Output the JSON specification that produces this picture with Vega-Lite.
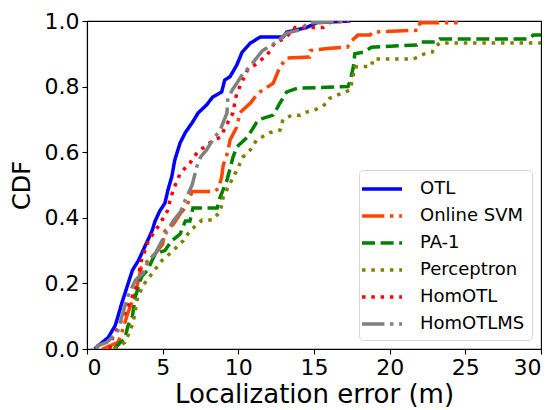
{
  "$schema": "https://vega.github.io/schema/vega-lite/v6.json",
  "width": 454,
  "height": 328,
  "autosize": {"type": "none"},
  "padding": {"left": 87, "top": 21, "right": 18, "bottom": 61},
  "config": {
    "font": "DejaVu Sans",
    "view": {"stroke": "black", "strokeWidth": 1.1},
    "axis": {
      "grid": false,
      "domainColor": "black",
      "domainWidth": 1.1,
      "tickColor": "black",
      "tickWidth": 1.1,
      "tickSize": 5,
      "labelFontSize": 22,
      "labelColor": "black",
      "labelPadding": 3,
      "titleFontSize": 24,
      "titleFontWeight": "normal",
      "titleColor": "black"
    },
    "legend": {
      "strokeColor": "#d6d6d6",
      "fillColor": "white",
      "cornerRadius": 4,
      "padding": 7,
      "labelFontSize": 18,
      "labelColor": "black",
      "symbolType": "M-1.6,0H2.4",
      "symbolSize": 400,
      "symbolStrokeWidth": 3.5,
      "labelOffset": 30,
      "rowPadding": 6
    }
  },
  "data": {
    "values": [
      {"m": "OTL", "x": 0.5, "y": 0.0},
      {"m": "OTL", "x": 1.0, "y": 0.02},
      {"m": "OTL", "x": 1.4, "y": 0.035},
      {"m": "OTL", "x": 1.85, "y": 0.07},
      {"m": "OTL", "x": 2.05, "y": 0.1},
      {"m": "OTL", "x": 2.3, "y": 0.14},
      {"m": "OTL", "x": 2.65, "y": 0.19},
      {"m": "OTL", "x": 3.0, "y": 0.24},
      {"m": "OTL", "x": 3.4, "y": 0.27},
      {"m": "OTL", "x": 3.7, "y": 0.3},
      {"m": "OTL", "x": 4.0, "y": 0.33},
      {"m": "OTL", "x": 4.3, "y": 0.36},
      {"m": "OTL", "x": 4.5, "y": 0.39},
      {"m": "OTL", "x": 4.8, "y": 0.42},
      {"m": "OTL", "x": 5.15, "y": 0.445},
      {"m": "OTL", "x": 5.35, "y": 0.485},
      {"m": "OTL", "x": 5.6, "y": 0.525},
      {"m": "OTL", "x": 5.8, "y": 0.576},
      {"m": "OTL", "x": 6.15, "y": 0.628},
      {"m": "OTL", "x": 6.5, "y": 0.66},
      {"m": "OTL", "x": 6.95, "y": 0.69},
      {"m": "OTL", "x": 7.35, "y": 0.72},
      {"m": "OTL", "x": 7.9, "y": 0.744},
      {"m": "OTL", "x": 8.3, "y": 0.768},
      {"m": "OTL", "x": 8.9, "y": 0.784},
      {"m": "OTL", "x": 9.1, "y": 0.82},
      {"m": "OTL", "x": 9.45, "y": 0.83},
      {"m": "OTL", "x": 9.9, "y": 0.866},
      {"m": "OTL", "x": 10.25, "y": 0.905},
      {"m": "OTL", "x": 10.8, "y": 0.933},
      {"m": "OTL", "x": 11.45, "y": 0.951},
      {"m": "OTL", "x": 12.95, "y": 0.951},
      {"m": "OTL", "x": 13.2, "y": 0.966},
      {"m": "OTL", "x": 14.5, "y": 0.98},
      {"m": "OTL", "x": 15.2, "y": 0.995},
      {"m": "OTL", "x": 17.4, "y": 1.0},

      {"m": "Online SVM", "x": 1.0, "y": 0.0},
      {"m": "Online SVM", "x": 2.05, "y": 0.02},
      {"m": "Online SVM", "x": 2.3, "y": 0.05},
      {"m": "Online SVM", "x": 2.5, "y": 0.08},
      {"m": "Online SVM", "x": 2.7, "y": 0.11},
      {"m": "Online SVM", "x": 3.2, "y": 0.17},
      {"m": "Online SVM", "x": 3.6, "y": 0.25},
      {"m": "Online SVM", "x": 4.05, "y": 0.27},
      {"m": "Online SVM", "x": 4.5, "y": 0.29},
      {"m": "Online SVM", "x": 5.0, "y": 0.32},
      {"m": "Online SVM", "x": 5.15, "y": 0.36},
      {"m": "Online SVM", "x": 5.7, "y": 0.38},
      {"m": "Online SVM", "x": 6.2, "y": 0.415},
      {"m": "Online SVM", "x": 6.6, "y": 0.435},
      {"m": "Online SVM", "x": 6.9, "y": 0.475},
      {"m": "Online SVM", "x": 6.95, "y": 0.48},
      {"m": "Online SVM", "x": 8.4, "y": 0.48},
      {"m": "Online SVM", "x": 8.7, "y": 0.49},
      {"m": "Online SVM", "x": 8.9, "y": 0.525},
      {"m": "Online SVM", "x": 9.0, "y": 0.56},
      {"m": "Online SVM", "x": 9.3, "y": 0.6},
      {"m": "Online SVM", "x": 9.45, "y": 0.637},
      {"m": "Online SVM", "x": 9.9, "y": 0.677},
      {"m": "Online SVM", "x": 10.1, "y": 0.72},
      {"m": "Online SVM", "x": 10.8, "y": 0.75},
      {"m": "Online SVM", "x": 11.3, "y": 0.78},
      {"m": "Online SVM", "x": 12.3, "y": 0.81},
      {"m": "Online SVM", "x": 12.75, "y": 0.86},
      {"m": "Online SVM", "x": 13.2, "y": 0.887},
      {"m": "Online SVM", "x": 14.7, "y": 0.89},
      {"m": "Online SVM", "x": 14.75, "y": 0.91},
      {"m": "Online SVM", "x": 16.1, "y": 0.917},
      {"m": "Online SVM", "x": 17.2, "y": 0.92},
      {"m": "Online SVM", "x": 17.5, "y": 0.94},
      {"m": "Online SVM", "x": 17.9, "y": 0.957},
      {"m": "Online SVM", "x": 18.7, "y": 0.957},
      {"m": "Online SVM", "x": 18.9, "y": 0.966},
      {"m": "Online SVM", "x": 21.9, "y": 0.972},
      {"m": "Online SVM", "x": 22.0, "y": 0.995},
      {"m": "Online SVM", "x": 24.5, "y": 0.995},

      {"m": "PA-1", "x": 1.8, "y": 0.0},
      {"m": "PA-1", "x": 2.2, "y": 0.02},
      {"m": "PA-1", "x": 2.5, "y": 0.03},
      {"m": "PA-1", "x": 2.7, "y": 0.07},
      {"m": "PA-1", "x": 3.0, "y": 0.1},
      {"m": "PA-1", "x": 3.2, "y": 0.16},
      {"m": "PA-1", "x": 3.6, "y": 0.22},
      {"m": "PA-1", "x": 4.0, "y": 0.24},
      {"m": "PA-1", "x": 4.5, "y": 0.29},
      {"m": "PA-1", "x": 5.15, "y": 0.3},
      {"m": "PA-1", "x": 5.6, "y": 0.33},
      {"m": "PA-1", "x": 6.15, "y": 0.35},
      {"m": "PA-1", "x": 6.5, "y": 0.39},
      {"m": "PA-1", "x": 6.8, "y": 0.39},
      {"m": "PA-1", "x": 7.0, "y": 0.43},
      {"m": "PA-1", "x": 8.6, "y": 0.43},
      {"m": "PA-1", "x": 8.8, "y": 0.463},
      {"m": "PA-1", "x": 9.25, "y": 0.515},
      {"m": "PA-1", "x": 9.65, "y": 0.585},
      {"m": "PA-1", "x": 9.9, "y": 0.616},
      {"m": "PA-1", "x": 10.6, "y": 0.646},
      {"m": "PA-1", "x": 11.2, "y": 0.69},
      {"m": "PA-1", "x": 11.4, "y": 0.7},
      {"m": "PA-1", "x": 12.3, "y": 0.713},
      {"m": "PA-1", "x": 12.75, "y": 0.75},
      {"m": "PA-1", "x": 13.2, "y": 0.784},
      {"m": "PA-1", "x": 13.9, "y": 0.795},
      {"m": "PA-1", "x": 17.25, "y": 0.8},
      {"m": "PA-1", "x": 17.4, "y": 0.82},
      {"m": "PA-1", "x": 17.6, "y": 0.86},
      {"m": "PA-1", "x": 17.7, "y": 0.9},
      {"m": "PA-1", "x": 18.25, "y": 0.905},
      {"m": "PA-1", "x": 18.8, "y": 0.92},
      {"m": "PA-1", "x": 21.8, "y": 0.927},
      {"m": "PA-1", "x": 22.0, "y": 0.936},
      {"m": "PA-1", "x": 23.1, "y": 0.936},
      {"m": "PA-1", "x": 23.3, "y": 0.945},
      {"m": "PA-1", "x": 29.1, "y": 0.945},
      {"m": "PA-1", "x": 29.5, "y": 0.957},
      {"m": "PA-1", "x": 30.0, "y": 0.957},

      {"m": "Perceptron", "x": 1.8, "y": 0.0},
      {"m": "Perceptron", "x": 2.5, "y": 0.02},
      {"m": "Perceptron", "x": 2.7, "y": 0.04},
      {"m": "Perceptron", "x": 3.05, "y": 0.08},
      {"m": "Perceptron", "x": 3.2, "y": 0.12},
      {"m": "Perceptron", "x": 3.35, "y": 0.16},
      {"m": "Perceptron", "x": 3.8, "y": 0.2},
      {"m": "Perceptron", "x": 4.3, "y": 0.23},
      {"m": "Perceptron", "x": 4.95, "y": 0.27},
      {"m": "Perceptron", "x": 5.7, "y": 0.3},
      {"m": "Perceptron", "x": 6.35, "y": 0.33},
      {"m": "Perceptron", "x": 6.8, "y": 0.36},
      {"m": "Perceptron", "x": 7.6, "y": 0.393},
      {"m": "Perceptron", "x": 8.25, "y": 0.393},
      {"m": "Perceptron", "x": 8.8, "y": 0.418},
      {"m": "Perceptron", "x": 9.0, "y": 0.463},
      {"m": "Perceptron", "x": 9.45, "y": 0.505},
      {"m": "Perceptron", "x": 9.9, "y": 0.545},
      {"m": "Perceptron", "x": 10.3, "y": 0.585},
      {"m": "Perceptron", "x": 10.8, "y": 0.607},
      {"m": "Perceptron", "x": 11.2, "y": 0.637},
      {"m": "Perceptron", "x": 12.1, "y": 0.66},
      {"m": "Perceptron", "x": 12.75, "y": 0.667},
      {"m": "Perceptron", "x": 12.95, "y": 0.7},
      {"m": "Perceptron", "x": 13.55, "y": 0.713},
      {"m": "Perceptron", "x": 14.1, "y": 0.713},
      {"m": "Perceptron", "x": 14.55, "y": 0.723},
      {"m": "Perceptron", "x": 15.1, "y": 0.73},
      {"m": "Perceptron", "x": 15.5, "y": 0.738},
      {"m": "Perceptron", "x": 15.85, "y": 0.75},
      {"m": "Perceptron", "x": 16.05, "y": 0.765},
      {"m": "Perceptron", "x": 16.5, "y": 0.774},
      {"m": "Perceptron", "x": 16.9, "y": 0.78},
      {"m": "Perceptron", "x": 17.4, "y": 0.79},
      {"m": "Perceptron", "x": 17.5, "y": 0.814},
      {"m": "Perceptron", "x": 17.7, "y": 0.86},
      {"m": "Perceptron", "x": 18.8, "y": 0.862},
      {"m": "Perceptron", "x": 18.9, "y": 0.884},
      {"m": "Perceptron", "x": 21.5, "y": 0.884},
      {"m": "Perceptron", "x": 21.9, "y": 0.89},
      {"m": "Perceptron", "x": 22.3, "y": 0.9},
      {"m": "Perceptron", "x": 22.8, "y": 0.905},
      {"m": "Perceptron", "x": 23.0, "y": 0.92},
      {"m": "Perceptron", "x": 23.3, "y": 0.933},
      {"m": "Perceptron", "x": 30.0, "y": 0.933},

      {"m": "HomOTL", "x": 1.5, "y": 0.0},
      {"m": "HomOTL", "x": 1.7, "y": 0.037},
      {"m": "HomOTL", "x": 2.0, "y": 0.06},
      {"m": "HomOTL", "x": 2.4, "y": 0.1},
      {"m": "HomOTL", "x": 2.7, "y": 0.13},
      {"m": "HomOTL", "x": 3.2, "y": 0.18},
      {"m": "HomOTL", "x": 3.6, "y": 0.27},
      {"m": "HomOTL", "x": 4.05, "y": 0.33},
      {"m": "HomOTL", "x": 4.8, "y": 0.38},
      {"m": "HomOTL", "x": 5.3, "y": 0.42},
      {"m": "HomOTL", "x": 5.5, "y": 0.455},
      {"m": "HomOTL", "x": 5.7, "y": 0.485},
      {"m": "HomOTL", "x": 6.15, "y": 0.535},
      {"m": "HomOTL", "x": 6.8, "y": 0.567},
      {"m": "HomOTL", "x": 7.3, "y": 0.6},
      {"m": "HomOTL", "x": 8.1, "y": 0.628},
      {"m": "HomOTL", "x": 8.8, "y": 0.646},
      {"m": "HomOTL", "x": 9.3, "y": 0.69},
      {"m": "HomOTL", "x": 9.65, "y": 0.72},
      {"m": "HomOTL", "x": 9.8, "y": 0.76},
      {"m": "HomOTL", "x": 9.9, "y": 0.78},
      {"m": "HomOTL", "x": 10.3, "y": 0.82},
      {"m": "HomOTL", "x": 10.6, "y": 0.85},
      {"m": "HomOTL", "x": 11.2, "y": 0.87},
      {"m": "HomOTL", "x": 11.9, "y": 0.896},
      {"m": "HomOTL", "x": 12.4, "y": 0.933},
      {"m": "HomOTL", "x": 13.1, "y": 0.948},
      {"m": "HomOTL", "x": 13.75, "y": 0.98},
      {"m": "HomOTL", "x": 15.6, "y": 0.98},
      {"m": "HomOTL", "x": 16.1, "y": 0.997},
      {"m": "HomOTL", "x": 17.3, "y": 1.0},

      {"m": "HomOTLMS", "x": 0.6, "y": 0.0},
      {"m": "HomOTLMS", "x": 0.7, "y": 0.01},
      {"m": "HomOTLMS", "x": 1.3, "y": 0.02},
      {"m": "HomOTLMS", "x": 2.0, "y": 0.05},
      {"m": "HomOTLMS", "x": 2.5, "y": 0.13},
      {"m": "HomOTLMS", "x": 2.7, "y": 0.16},
      {"m": "HomOTLMS", "x": 3.2, "y": 0.21},
      {"m": "HomOTLMS", "x": 3.7, "y": 0.23},
      {"m": "HomOTLMS", "x": 4.05, "y": 0.27},
      {"m": "HomOTLMS", "x": 4.5, "y": 0.29},
      {"m": "HomOTLMS", "x": 5.3, "y": 0.36},
      {"m": "HomOTLMS", "x": 5.7, "y": 0.39},
      {"m": "HomOTLMS", "x": 6.2, "y": 0.42},
      {"m": "HomOTLMS", "x": 6.5, "y": 0.455},
      {"m": "HomOTLMS", "x": 6.95, "y": 0.5},
      {"m": "HomOTLMS", "x": 7.25, "y": 0.555},
      {"m": "HomOTLMS", "x": 7.5, "y": 0.585},
      {"m": "HomOTLMS", "x": 7.9, "y": 0.607},
      {"m": "HomOTLMS", "x": 8.3, "y": 0.637},
      {"m": "HomOTLMS", "x": 8.8, "y": 0.667},
      {"m": "HomOTLMS", "x": 9.25, "y": 0.72},
      {"m": "HomOTLMS", "x": 9.3, "y": 0.76},
      {"m": "HomOTLMS", "x": 9.6, "y": 0.79},
      {"m": "HomOTLMS", "x": 9.9, "y": 0.81},
      {"m": "HomOTLMS", "x": 10.3, "y": 0.84},
      {"m": "HomOTLMS", "x": 10.9, "y": 0.866},
      {"m": "HomOTLMS", "x": 11.0, "y": 0.875},
      {"m": "HomOTLMS", "x": 11.6, "y": 0.91},
      {"m": "HomOTLMS", "x": 12.55, "y": 0.936},
      {"m": "HomOTLMS", "x": 13.2, "y": 0.963},
      {"m": "HomOTLMS", "x": 14.1, "y": 0.973},
      {"m": "HomOTLMS", "x": 14.6, "y": 0.994},
      {"m": "HomOTLMS", "x": 17.3, "y": 1.0}
    ]
  },
  "mark": {"type": "line", "strokeWidth": 3.5, "strokeCap": "butt", "clip": true},
  "encoding": {
    "x": {
      "field": "x",
      "type": "quantitative",
      "title": "Localization error (m)",
      "scale": {"domain": [0, 30], "nice": false, "zero": false},
      "axis": {"values": [0, 5, 10, 15, 20, 25, 30], "titlePadding": 3, "titleFontSize": 26}
    },
    "y": {
      "field": "y",
      "type": "quantitative",
      "title": "CDF",
      "scale": {"domain": [0, 1], "nice": false},
      "axis": {"values": [0, 0.2, 0.4, 0.6, 0.8, 1.0], "format": ".1f", "titlePadding": 10}
    },
    "color": {
      "field": "m",
      "type": "nominal",
      "title": null,
      "scale": {
        "domain": ["OTL", "Online SVM", "PA-1", "Perceptron", "HomOTL", "HomOTLMS"],
        "range": ["#0000ff", "#ff4500", "#008000", "#808000", "#ff0000", "#808080"]
      },
      "legend": {"orient": "bottom-right", "offset": 9}
    },
    "strokeDash": {
      "field": "m",
      "type": "nominal",
      "title": null,
      "scale": {
        "domain": ["OTL", "Online SVM", "PA-1", "Perceptron", "HomOTL", "HomOTLMS"],
        "range": [[1, 0], [22.4, 5.6, 3.5, 5.6], [13, 5.6], [3.5, 5.8], [3.5, 5.8], [22.4, 5.6, 3.5, 5.6]]
      },
      "legend": {"orient": "bottom-right", "offset": 9}
    }
  }
}
